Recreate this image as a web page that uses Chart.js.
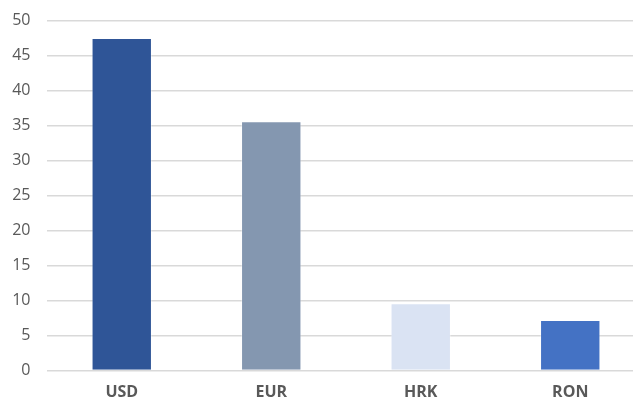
<!DOCTYPE html>
<html>
<head>
<meta charset="utf-8">
<script src="https://cdn.jsdelivr.net/npm/chart.js@4/dist/chart.umd.min.js"></script>
<style>
html,body{margin:0;padding:0;background:#fff;overflow:hidden;width:633px;height:401px;}
#wrap{position:absolute;left:0;top:0;width:645px;height:401px;}
</style>
</head>
<body>
<div id="wrap"><canvas id="c" width="645" height="401"></canvas></div>
<script>
const categories = ["USD", "EUR", "HRK", "RON"];
const values = [47.5, 35.6, 9.6, 7.2];
const barColors = ["#2F5597", "#8497B0", "#DAE3F3", "#4472C4"];
const yTicks = [0, 5, 10, 15, 20, 25, 30, 35, 40, 45, 50];

new Chart(document.getElementById('c'), {
  type: 'bar',
  data: {
    labels: categories,
    datasets: [{
      data: values,
      backgroundColor: barColors,
      borderColor: 'rgba(255,255,255,0.35)',
      borderWidth: 1,
      categoryPercentage: 1.0,
      barPercentage: 0.404
    }]
  },
  options: {
    responsive: false,
    animation: false,
    devicePixelRatio: 1,
    layout: { padding: 0 },
    plugins: { legend: { display: false }, tooltip: { enabled: false } },
    scales: {
      x: {
        afterFit: (axis) => { axis.height = 30.5; },
        grid: { display: false, drawTicks: false },
        border: { display: false },
        ticks: {
          color: '#595959',
          font: { family: 'Open Sans', size: 16, weight: 'bold' },
          padding: 12.5
        }
      },
      y: {
        min: 0, max: 50,
        afterBuildTicks: (axis) => { axis.ticks = yTicks.map(v => ({ value: v })); },
        afterFit: (axis) => { axis.width = 47; axis.paddingTop = 20.5; axis.paddingBottom = 0; },
        grid: { color: '#d9d9d9', lineWidth: 1.5, drawTicks: false },
        border: { display: false },
        ticks: {
          color: '#595959',
          font: { family: 'Open Sans', size: 16 },
          padding: 16.5
        }
      }
    }
  }
});
</script>
</body>
</html>
